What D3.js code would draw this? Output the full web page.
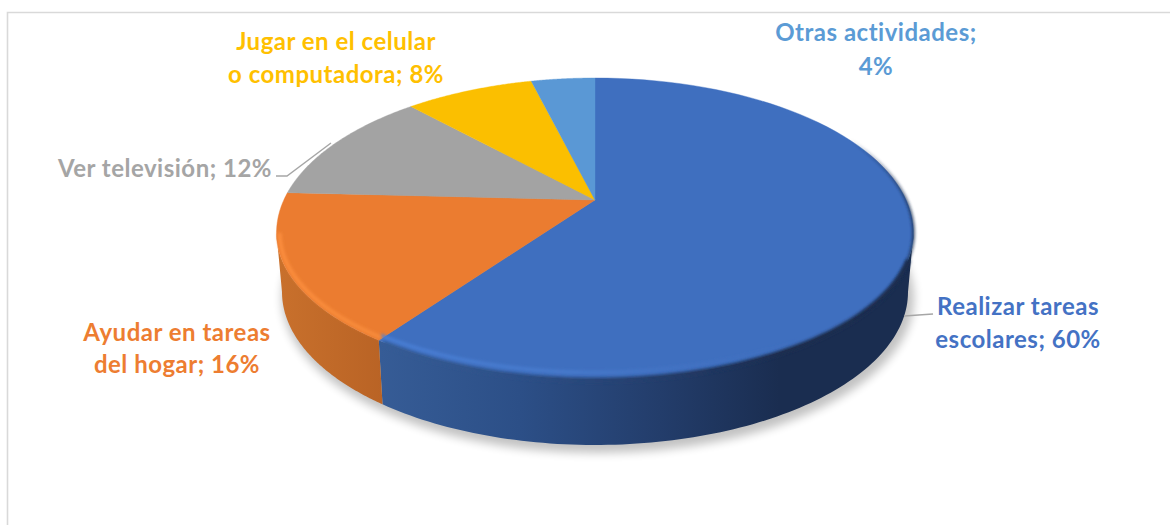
<!DOCTYPE html>
<html><head><meta charset="utf-8">
<script src="https://cdn.jsdelivr.net/npm/d3@7/dist/d3.min.js"></script>
<style>html,body{margin:0;padding:0;background:#fff}svg{display:block}</style>
</head><body><svg id="c" width="1170" height="525"></svg>
<script>
const categories = ["Realizar tareas escolares","Ayudar en tareas del hogar","Ver televisión","Jugar en el celular o computadora","Otras actividades"];
const values = [60,16,12,8,4];
const labelLines = [["Realizar tareas","escolares; 60%"],["Ayudar en tareas","del hogar; 16%"],["Ver televisión; 12%"],["Jugar en el celular","o computadora; 8%"],["Otras actividades;","4%"]];
const colors = ["#4472C4","#ED7D31","#A5A5A5","#FFC000","#5B9BD5"];
const surfaceColors = ["#3F6FBF","#EB7C30","#A3A3A3","#FBBF00","#5A98D5"];

const labelPos = [[1018,315],[177,341],[165,177],[336,50],[876,41]];
const LH = [33,32,0,33,34];

const svg = d3.select("#c");
const defs = svg.append("defs");
const blur = (id,s)=>defs.append("filter").attr("id",id).attr("x","-10%").attr("y","-20%").attr("width","120%").attr("height","140%")
  .append("feGaussianBlur").attr("stdDeviation",s);
blur("b1",1.6); blur("b2",5);
const grad=(id,x1,x2,stops)=>{const g=defs.append("linearGradient").attr("id",id).attr("gradientUnits","userSpaceOnUse")
  .attr("x1",x1).attr("x2",x2).attr("y1",0).attr("y2",0);
  stops.forEach(([o,c,a])=>g.append("stop").attr("offset",o).attr("stop-color",c).attr("stop-opacity",a===undefined?1:a));};
grad("wall0",380,780,[[0,"#365c96"],[.35,"#2c4f87"],[.7,"#233d6b"],[1,"#1a2d50"]]);
grad("wall1",280,384,[[0,"#c8702c"],[1,"#b96325"]]);
grad("rim0",380,800,[[0,"#4a80d8",.9],[.45,"#4a7fd2",.7],[1,"#4472C4",0]]);
grad("rim1",277,384,[[0,"#fb8d3c"],[1,"#f68a3a"]]);
grad("edge",850,916,[[0,"#1a2d50",0],[1,"#1a2d50",.95]]);

// chart frame
svg.append("path").attr("d","M7.5,525V12.5H1170").attr("fill","none").attr("stroke","#d9d9d9").attr("stroke-width",1.6);

// ellipse projections
const cx=595, apexY=200, topCy=233, topRx=318.5, topUp=155, topDown=146;
const botCy=292, botRx=313, botRy=153;
const xTop=d3.scaleLinear().domain([-1,1]).range([cx-topRx,cx+topRx]);
const xBot=d3.scaleLinear().domain([-1,1]).range([cx-botRx,cx+botRx]);
const topPt=t=>{const c=Math.cos(t);return [xTop(Math.sin(t)),topCy-(c>0?topUp:topDown)*c];};
const botPt=t=>[xBot(Math.sin(t)),botCy-botRy*Math.cos(t)];
const persp=a=>a+(11.5*Math.PI/180)*Math.abs(Math.sin(a));
const samples=(a,b)=>d3.range(0,101).map(i=>a+(b-a)*i/100);
const line=d3.line();

const arcs=d3.pie().sort(null).value(d=>d)(values);

// ground shadow
svg.append("ellipse").attr("cx",cx+3).attr("cy",botCy+6).attr("rx",botRx+3).attr("ry",botRy+2)
  .attr("fill","#000").attr("opacity",.24).attr("filter","url(#b2)");

// walls
const HP=Math.PI/2;
arcs.forEach((d,i)=>{
  const a=Math.max(persp(d.startAngle),HP), b=Math.min(persp(d.endAngle),3*HP);
  if(b<=a) return;
  const s=samples(a,b);
  const pts=s.map(topPt).concat(s.slice().reverse().map(botPt));
  svg.append("path").attr("d",line(pts)+"Z").attr("fill",`url(#wall${i})`);
});

// top surface
arcs.forEach((d,i)=>{
  const s=samples(persp(d.startAngle),persp(d.endAngle));
  svg.append("path").attr("d",line([[cx,apexY]].concat(s.map(topPt)))+"Z")
    .attr("fill",surfaceColors[i]).attr("stroke",surfaceColors[i]).attr("stroke-width",.4);
});

// soft transition from the top into the blue wall
{
  const d=arcs[0];
  const edgePt=t=>{const p=topPt(t);return [p[0],p[1]+1];};
  svg.append("path").attr("d",line(samples(1.75,persp(d.endAngle)-0.02).map(edgePt))).attr("fill","none")
    .attr("stroke","url(#wall0)").attr("stroke-width",5).attr("filter","url(#b1)");
}

// bevel highlights along the front rim
const inset=(t,k)=>{const p=topPt(t);return [cx+(p[0]-cx)*.99,topCy+(p[1]-topCy)*k];};
arcs.slice(0,2).forEach((d,i)=>{
  const a=Math.max(persp(d.startAngle),HP), b=Math.min(persp(d.endAngle),3*HP);
  const k=i===0?.955:.975;
  svg.append("path").attr("d",line(samples(a,b).map(t=>inset(t,k)))).attr("fill","none")
    .attr("stroke",`url(#rim${i})`).attr("stroke-width",i===0?3.5:4).attr("filter","url(#b1)");
});
// dark edge where the top meets the wall on the right
svg.append("path").attr("d",line(samples(0.9,2.25).map(topPt))).attr("fill","none")
  .attr("stroke","url(#edge)").attr("stroke-width",2.5).attr("filter","url(#b1)");

// leader lines
const leaders=[[[904,316],[933,314]],[[276,176],[287,176],[331,143]]];
leaders.forEach(l=>svg.append("path").attr("d",line(l)).attr("fill","none").attr("stroke","#a6a6a6").attr("stroke-width",1.4));

// labels
labelLines.forEach((ls,i)=>{
  const t=svg.append("text").attr("text-anchor","middle").attr("fill",colors[i])
    .attr("font-family","Lato, 'Open Sans', sans-serif").attr("font-weight",700).attr("font-size",24).attr("letter-spacing",.5);
  ls.forEach((s,j)=>t.append("tspan").attr("x",labelPos[i][0]).attr("y",labelPos[i][1]+j*LH[i]).text(s));
});
</script></body></html>
